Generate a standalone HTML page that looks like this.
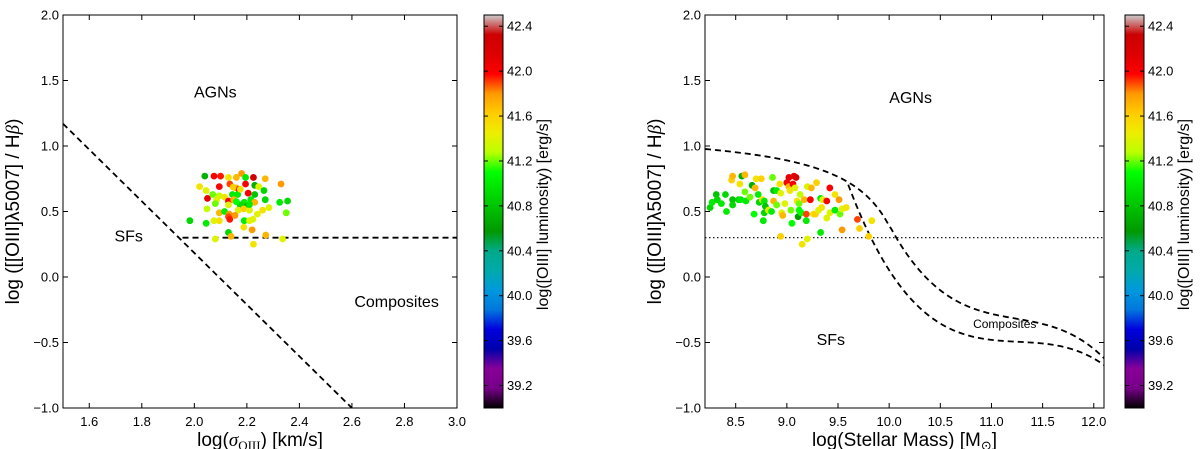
<!DOCTYPE html>
<html><head><meta charset="utf-8"><style>
body{margin:0;background:#fff;}
svg{display:block;font-family:"Liberation Sans","DejaVu Sans",sans-serif;}
</style></head><body>
<svg id="c" width="1200" height="449"></svg>
<script>
// ---- data ----
const leftX=[2.04,2.075,2.10,2.13,2.16,2.18,2.195,2.225,2.27,2.02,2.095,2.135,2.16,2.17,2.195,2.23,2.245,2.265,2.33,2.045,2.07,2.095,2.115,2.145,2.165,2.205,2.23,2.05,2.085,2.13,2.15,2.19,2.215,2.27,2.325,2.355,2.08,2.13,2.175,2.2,2.23,2.048,2.095,2.115,2.133,2.167,2.188,2.21,2.24,2.26,2.284,2.35,1.983,2.045,2.075,2.095,2.13,2.135,2.155,2.19,2.21,2.223,2.13,2.188,2.22,2.08,2.14,2.272,2.336,2.225,2.148,2.175,2.16,2.21];
const leftY=[0.77,0.77,0.77,0.76,0.76,0.79,0.76,0.76,0.75,0.69,0.69,0.71,0.68,0.67,0.71,0.70,0.69,0.66,0.71,0.66,0.63,0.62,0.61,0.63,0.63,0.64,0.63,0.60,0.59,0.58,0.59,0.57,0.59,0.59,0.57,0.58,0.56,0.55,0.55,0.54,0.57,0.52,0.49,0.50,0.48,0.51,0.52,0.51,0.48,0.51,0.53,0.49,0.43,0.41,0.43,0.43,0.46,0.44,0.47,0.43,0.43,0.44,0.34,0.38,0.36,0.29,0.31,0.32,0.29,0.25,0.686,0.67,0.575,0.553];
const leftL=[40.7,42.0,41.95,41.5,41.7,41.8,41.0,42.3,41.7,41.5,42.0,41.9,41.7,42.0,42.0,40.7,41.4,40.9,41.8,41.4,41.2,41.3,41.5,41.0,41.0,42.0,40.8,42.1,41.4,42.0,41.7,41.0,41.0,40.9,41.0,40.9,41.2,41.4,40.9,40.7,41.7,41.3,41.7,41.0,41.8,41.4,41.6,41.4,41.4,41.5,41.4,41.2,40.9,41.0,41.4,41.5,41.9,41.95,41.8,41.0,41.4,41.4,40.9,41.5,41.8,41.4,41.7,41.7,41.4,41.5,41.6,41.5,41.1,41.0];
const rightX=[8.25,8.27,8.31,8.32,8.36,8.40,8.41,8.47,8.47,8.46,8.47,8.53,8.55,8.56,8.59,8.54,8.59,8.6,8.64,8.66,8.68,8.69,8.70,8.72,8.73,8.75,8.76,8.78,8.77,8.79,8.78,8.82,8.86,8.87,8.90,8.87,8.85,8.90,8.93,8.94,8.94,8.95,8.96,8.98,9.0,9.02,9.02,9.03,9.04,9.05,9.06,9.07,9.09,9.08,9.10,9.11,9.12,9.12,9.13,9.15,9.14,9.17,9.19,9.19,9.2,9.20,9.23,9.24,9.26,9.28,9.29,9.31,9.33,9.33,9.34,9.35,9.39,9.39,9.42,9.42,9.47,9.47,9.51,9.52,9.54,9.54,9.58,9.69,9.71,9.8,9.83];
const rightY=[0.53,0.57,0.63,0.59,0.56,0.63,0.50,0.59,0.55,0.74,0.77,0.59,0.59,0.77,0.78,0.71,0.65,0.58,0.61,0.70,0.48,0.68,0.75,0.63,0.57,0.75,0.59,0.58,0.43,0.54,0.49,0.51,0.76,0.66,0.66,0.58,0.50,0.55,0.71,0.64,0.31,0.49,0.47,0.56,0.72,0.76,0.69,0.66,0.51,0.41,0.71,0.77,0.76,0.68,0.58,0.46,0.56,0.51,0.63,0.25,0.49,0.59,0.48,0.43,0.29,0.69,0.59,0.68,0.48,0.48,0.72,0.51,0.34,0.60,0.53,0.59,0.58,0.45,0.68,0.49,0.63,0.51,0.59,0.48,0.36,0.52,0.53,0.44,0.37,0.31,0.43];
const rightL=[40.9,41.0,40.8,40.9,41.0,40.9,41.0,40.8,40.9,41.6,41.7,40.9,41.0,40.7,41.7,41.5,41.2,41.0,41.2,40.7,41.1,41.7,41.5,41.0,40.9,41.6,41.5,41.0,41.0,40.8,40.9,41.4,41.2,40.8,41.0,41.7,41.0,41.2,41.5,41.4,41.6,41.4,41.7,41.4,42.0,42.1,41.7,41.5,41.2,41.1,42.0,42.1,42.2,41.4,41.5,40.6,41.2,41.1,41.3,41.5,41.1,41.7,41.9,41.0,41.4,41.4,42.0,41.7,41.5,41.6,41.6,41.4,41.0,41.0,41.5,41.4,42.0,41.4,42.0,41.4,41.5,41.0,41.8,41.2,41.8,41.4,41.5,41.9,41.6,41.6,41.5];
const yTicks=[-1.0,-0.5,0.0,0.5,1.0,1.5,2.0];
const leftXTicks=[1.6,1.8,2.0,2.2,2.4,2.6,2.8,3.0];
const rightXTicks=[8.5,9.0,9.5,10.0,10.5,11.0,11.5,12.0];
const cbTicks=[39.2,39.6,40.0,40.4,40.8,41.2,41.6,42.0,42.4];
const CMIN=39.0,CMAX=42.5;

const NS="http://www.w3.org/2000/svg";
const svg=document.getElementById('c');
function E(tag,a,p){const e=document.createElementNS(NS,tag);for(const k in a)e.setAttribute(k,a[k]);(p||svg).appendChild(e);return e;}
const stops=[[0,0,0,0],[.05,.4667,0,.5333],[.10,.5333,0,.6],[.15,0,0,.6667],[.20,0,0,.8667],[.25,0,.4667,.8667],[.30,0,.6,.8667],[.35,0,.6667,.6667],[.40,0,.6667,.5333],[.45,0,.6,0],[.50,0,.7333,0],[.55,0,.8667,0],[.60,0,1,0],[.65,.7333,1,0],[.70,.9333,.9333,0],[.75,1,.8,0],[.80,1,.6,0],[.85,1,0,0],[.90,.8667,0,0],[.95,.8,0,0],[1,.8,.8,.8]];
function cmap(t){t=Math.max(0,Math.min(1,t));for(let i=1;i<stops.length;i++){if(t<=stops[i][0]){const a=stops[i-1],b=stops[i];const f=(t-a[0])/(b[0]-a[0]);const c=[1,2,3].map(j=>Math.round(255*(a[j]+(b[j]-a[j])*f)));return `rgb(${c})`;}}return 'rgb(204,204,204)';}
const gr=E('defs',{});const lg=E('linearGradient',{id:'cbg',x1:0,y1:1,x2:0,y2:0},gr);
for(let i=0;i<=40;i++){E('stop',{offset:i/40,'stop-color':cmap(i/40)},lg);}

function panel(o){
  const {x0,x1,y0,y1,xmin,xmax,ymin,ymax,name}=o;
  const sx=v=>x0+(v-xmin)/(xmax-xmin)*(x1-x0);
  const sy=v=>y1-(v-ymin)/(ymax-ymin)*(y1-y0);
  const g=E('g',{});
  
  
  o.lines(g,sx,sy);
  o.X.forEach((v,i)=>{const c=E('circle',{cx:sx(v),cy:sy(o.Y[i]),r:3.4,fill:cmap((o.L[i]-CMIN)/(CMAX-CMIN))},g);
    
    });
  const fr=E('rect',{x:x0,y:y0,width:x1-x0,height:y1-y0,fill:'none',stroke:'#000','stroke-width':1},g);
  
  
  yTicks.forEach(v=>{const y=sy(v);E('line',{x1:x0,x2:x0+5,y1:y,y2:y,stroke:'#000'},g);E('line',{x1:x1,x2:x1-5,y1:y,y2:y,stroke:'#000'},g);
    const t=E('text',{x:x0-4,y:y+4.5,'text-anchor':'end','font-size':13},g);t.textContent=(v<0?'\u2212':'')+Math.abs(v).toFixed(1);
    
    });
  o.xt.forEach(v=>{const x=sx(v);E('line',{x1:x,x2:x,y1:y1,y2:y1-5,stroke:'#000'},g);E('line',{x1:x,x2:x,y1:y0,y2:y0+5,stroke:'#000'},g);
    const t=E('text',{x:x,y:y1+18,'text-anchor':'middle','font-size':13},g);t.textContent=v.toFixed(1);
    
    });
  o.labels.forEach(l=>{const t=E('text',{x:sx(l[1]),y:sy(l[2]),'text-anchor':'middle','font-size':l[3]},g);t.textContent=l[0];
    
    });
  const yl=E('text',{transform:`translate(${x0-44},${(y0+y1)/2}) rotate(-90)`,'text-anchor':'middle','font-size':19},g);
  yl.innerHTML='log ([[OIII]\u03bb5007] / H<tspan font-style="italic" font-family="Liberation Serif">\u03b2</tspan>)';
  
  
  const xl=E('text',{x:(x0+x1)/2,y:y1+38,'text-anchor':'middle','font-size':19},g);
  xl.innerHTML=o.xlabel;
  
  
  const cx=o.cb,cb=E('rect',{x:cx,y:y0,width:19,height:y1-y0,fill:'url(#cbg)',stroke:'#000'},g);
  
  
  const cy=v=>y1-(v-CMIN)/(CMAX-CMIN)*(y1-y0);
  cbTicks.forEach(v=>{const y=cy(v);E('line',{x1:cx+19,x2:cx+15,y1:y,y2:y,stroke:'#000'},g);E('line',{x1:cx,x2:cx+4,y1:y,y2:y,stroke:'#000'},g);
    const t=E('text',{x:cx+23,y:y+4.5,'font-size':13},g);t.textContent=v.toFixed(1);
    
    });
  const cl=E('text',{transform:`translate(${cx+64},${(y0+y1)/2+3}) rotate(-90)`,'text-anchor':'middle','font-size':16},g);
  cl.textContent='log([OIII] luminosity) [erg/s]';
  
  
}
const dash={stroke:'#000','stroke-width':1.8,'stroke-dasharray':'6,4',fill:'none'};
panel({name:'left',x0:63,x1:457,y0:15,y1:408,xmin:1.5,xmax:3.0,ymin:-1,ymax:2,X:leftX,Y:leftY,L:leftL,xt:leftXTicks,cb:484,
  xlabel:'log(<tspan font-family="Liberation Serif" font-style="italic">\u03c3</tspan><tspan font-family="Liberation Serif" font-size="13" dy="4">OIII</tspan><tspan dy="-4">) [km/s]</tspan>',
  labels:[['AGNs',2.08,1.37,16],['SFs',1.75,0.27,16],['Composites',2.77,-0.23,16]],
  lines:(g,sx,sy)=>{
    const a=E('path',Object.assign({d:`M${sx(1.5)},${sy(1.17)}L${sx(2.6)},${sy(-1.0)}`},dash),g);
    
    
    const b=E('path',Object.assign({d:`M${sx(1.955)},${sy(0.3)}L${sx(3.0)},${sy(0.3)}`},dash),g);
    
    
  }});
panel({name:'right',x0:705,x1:1104,y0:15,y1:408,xmin:8.2,xmax:12.1,ymin:-1,ymax:2,X:rightX,Y:rightY,L:rightL,xt:rightXTicks,cb:1125,
  xlabel:'log(Stellar Mass) [M<tspan font-size="13" dy="4">\u2299</tspan><tspan dy="-4">]</tspan>',
  labels:[['AGNs',10.21,1.33,16],['SFs',9.43,-0.52,16],['Composites',11.13,-0.39,12]],
  lines:(g,sx,sy)=>{
    let d='';for(let x=8.2;x<=12.1001;x+=0.02){const y=x<=10?0.375/(x-10.5)+1.14:410.24-109.333*x+9.71731*x*x-0.288244*x*x*x;d+=(d?'L':'M')+sx(x)+','+sy(y);}
    const u=E('path',Object.assign({d},dash),g);
    
    
    d='';for(let x=9.6;x<=12.1001;x+=0.02){const y=352.066-93.8249*x+8.32651*x*x-0.246416*x*x*x;d+=(d?'L':'M')+sx(x)+','+sy(y);}
    const l=E('path',Object.assign({d},dash),g);
    
    
    const h=E('line',{x1:sx(8.2),x2:sx(12.1),y1:sy(0.3),y2:sy(0.3),stroke:'#000','stroke-width':1.2,'stroke-dasharray':'1.5,2.5'},g);
    
    
  }});
</script>
</body></html>
